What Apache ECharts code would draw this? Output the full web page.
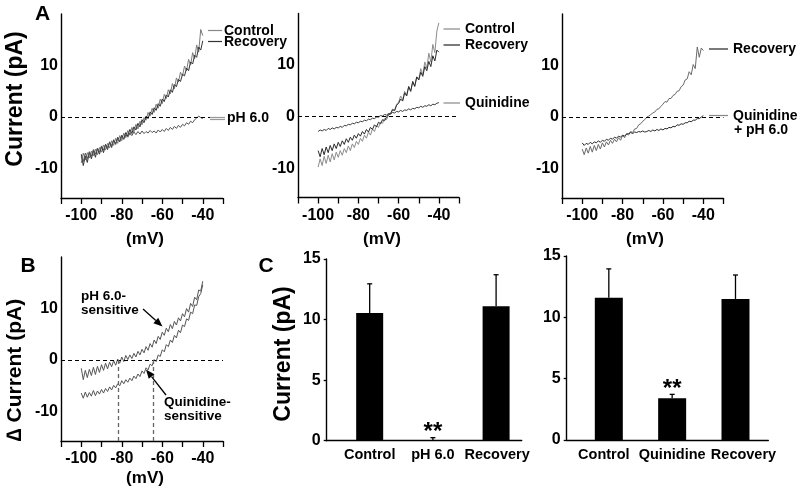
<!DOCTYPE html>
<html><head><meta charset="utf-8">
<script src="https://cdn.jsdelivr.net/npm/echarts@6/dist/echarts.min.js"></script>
<style>html,body{margin:0;padding:0;background:#fff}#c{width:800px;height:492px}</style>
</head><body><div id="c"></div>
<script>
// ---- Data ----
const rampStart = -100;          // mV, first ramp sample
const xTickLabels = [-100, -80, -60, -40];
const yTickLabels = [-10, 0, 10];

// Panel A1
const a1Control  = [-8.9,-7.0,-8.3,-6.9,-7.9,-6.6,-7.5,-6.2,-7.3,-5.9,-6.8,-5.4,-6.4,-5.1,-6.0,-4.6,-5.5,-4.1,-5.1,-3.6,-4.6,-3.1,-4.0,-2.6,-3.5,-2.0,-2.9,-1.4,-2.3,-0.8,-1.5,-0.1,-0.6,0.9,0.2,1.7,0.9,2.5,1.7,3.5,2.6,4.4,3.6,5.3,4.5,6.5,5.5,7.6,6.8,8.7,8.0,9.9,9.0,11.2,10.1,12.5,11.3,14.0,12.6,17.0,15.8];
const a1Recovery = [-7.2,-9.4,-7.6,-8.8,-6.8,-8.1,-6.5,-7.8,-6.1,-7.2,-5.7,-6.9,-5.3,-6.3,-4.8,-5.9,-4.4,-5.3,-3.9,-4.8,-3.5,-4.3,-3.0,-3.7,-2.4,-3.2,-1.9,-2.5,-1.2,-1.9,-0.5,-1.1,0.2,-0.3,1.0,0.5,1.8,1.3,2.6,2.1,3.5,3.0,4.3,3.9,5.3,4.8,6.3,5.9,7.3,6.9,8.3,8.0,9.5,9.0,10.7,10.3,12.0,11.6,13.6,13.0,14.8];
const a1pH6      = [-7.6,-8.6,-7.0,-8.1,-6.7,-7.6,-6.3,-7.2,-6.0,-6.8,-5.6,-6.4,-5.3,-5.9,-4.9,-5.5,-4.6,-5.1,-4.2,-4.7,-3.8,-4.3,-3.4,-3.9,-3.1,-3.6,-2.9,-3.4,-2.8,-3.3,-2.7,-3.2,-2.8,-3.1,-2.6,-3.0,-2.7,-3.1,-2.5,-2.9,-2.4,-2.8,-2.2,-2.6,-2.0,-2.4,-1.8,-2.2,-1.6,-2.0,-1.4,-1.7,-1.1,-1.4,-0.8,-1.1,-0.5,-0.2,0.2,-0.1,-0.3];
// Panel A2
const a2Control   = [-9.8,-8.2,-9.5,-7.7,-9.1,-7.5,-8.8,-7.2,-8.4,-6.9,-7.9,-6.6,-7.5,-6.2,-7.0,-5.7,-6.6,-5.3,-6.0,-4.8,-5.4,-4.2,-4.8,-3.6,-4.2,-3.0,-3.6,-2.4,-2.9,-1.8,-2.1,-1.1,-1.3,-0.4,-0.6,0.3,0.5,1.5,1.1,2.4,2.8,4.0,3.2,4.9,4.1,5.9,4.9,6.8,5.8,7.7,7.2,9.3,8.1,10.6,9.4,12.3,10.6,14.0,12.4,16.6,18.2];
const a2Recovery  = [-6.6,-7.8,-6.2,-7.4,-5.9,-7.0,-5.6,-6.6,-5.3,-6.2,-5.0,-5.8,-4.7,-5.4,-4.3,-5.0,-4.0,-4.6,-3.6,-4.2,-3.3,-3.8,-2.9,-3.4,-2.5,-3.0,-2.1,-2.5,-1.6,-2.0,-1.1,-1.4,-0.6,-0.8,-0.1,0.4,0.6,1.3,1.2,2.2,2.6,3.4,3.0,4.6,4.0,5.8,4.9,6.8,5.9,7.7,7.1,8.6,7.8,9.7,8.9,10.7,9.7,11.8,10.8,12.9,12.5];
const a2Quinidine = [-2.9,-2.6,-2.8,-2.5,-2.7,-2.3,-2.5,-2.2,-2.4,-2.1,-2.2,-1.9,-2.1,-1.7,-1.8,-1.5,-1.6,-1.3,-1.4,-1.1,-1.2,-0.9,-1.0,-0.7,-0.8,-0.5,-0.6,-0.3,-0.4,-0.1,-0.1,0.2,0.1,0.4,0.3,0.6,0.5,0.8,0.7,1.0,0.9,1.2,1.0,1.3,1.2,1.5,1.3,1.6,1.5,1.8,1.7,2.0,1.8,2.1,2.0,2.3,2.1,2.4,2.3,2.6,2.7];
// Panel A3
const a3Recovery  = [-6.2,-7.3,-6.0,-7.0,-5.7,-6.8,-5.5,-6.5,-5.3,-6.2,-5.0,-5.8,-4.8,-5.4,-4.5,-5.1,-4.3,-4.8,-4.0,-4.5,-3.6,-4.0,-3.2,-3.5,-2.8,-3.0,-2.3,-2.2,-1.5,-1.3,-0.8,-0.5,0.0,0.2,0.5,0.8,1.0,1.5,1.6,2.1,2.5,3.0,2.9,3.6,3.6,4.2,4.4,5.0,5.1,5.9,6.2,7.2,7.4,8.8,8.2,10.2,9.4,13.6,11.6,13.4,12.9];
const a3QuinPH    = [-5.0,-5.5,-5.1,-5.3,-4.9,-5.2,-4.8,-5.0,-4.6,-4.9,-4.5,-4.7,-4.3,-4.5,-4.1,-4.3,-3.9,-4.1,-3.7,-3.9,-3.5,-3.7,-3.3,-3.2,-3.0,-3.2,-2.9,-3.0,-2.8,-2.9,-2.7,-2.9,-2.8,-2.6,-2.8,-2.5,-2.7,-2.4,-2.6,-2.3,-2.5,-2.2,-2.3,-2.0,-2.1,-1.8,-1.9,-1.5,-1.6,-1.3,-1.4,-1.1,-1.1,-0.8,-0.9,-0.6,-0.6,-0.3,-0.3,0.0,0.3];
// Panel B (difference currents)
const bPHSensitive  = [-1.6,-3.8,-2.0,-3.4,-1.8,-3.0,-1.4,-2.8,-1.2,-2.4,-0.9,-2.0,-0.6,-1.7,-0.4,-1.3,-0.1,-1.0,0.2,-0.6,0.6,-0.3,0.9,0.1,1.0,0.3,1.3,0.6,1.7,1.0,2.1,1.4,2.6,1.9,3.2,2.5,3.9,3.2,4.6,4.0,5.4,4.8,6.2,5.5,6.9,6.1,7.5,6.8,8.2,7.6,9.0,8.4,10.0,9.3,11.0,10.4,12.2,11.7,13.6,13.4,15.3];
const bQuinSensitive = [-6.4,-7.4,-6.2,-7.2,-6.3,-7.0,-5.9,-6.9,-6.0,-6.6,-5.7,-6.4,-5.5,-6.1,-5.2,-5.8,-4.9,-5.4,-4.6,-5.0,-4.0,-4.6,-3.8,-4.3,-3.5,-4.0,-3.1,-3.6,-2.7,-3.2,-2.1,-2.6,-1.5,-1.9,-0.8,-1.1,0.1,-0.3,1.0,0.7,2.0,1.6,3.0,2.6,3.9,3.4,4.8,4.3,5.8,5.3,6.8,6.5,8.0,7.7,9.3,9.0,10.7,10.6,12.3,12.9,14.6];
const reversalPotentials = [-81.5, -64.5];

// Panel C
const c1Categories = ['Control', 'pH 6.0', 'Recovery'];
const c1Means = [10.55, 0.05, 11.1];
const c1Sem   = [2.4, 0.2, 2.6];
const c1Sig   = ['', '**', ''];
const c2Categories = ['Control', 'Quinidine', 'Recovery'];
const c2Means = [11.6, 3.4, 11.5];
const c2Sem   = [2.35, 0.32, 1.95];
const c2Sig   = ['', '**', ''];

// ---- Chart ----
const FONT = '"Liberation Sans", Arial, sans-serif';
const pairs = arr => arr.map((y, i) => [rampStart + i, y]);
const YMIN = -15.7, YMAX = 20;

const grids = [
  {left: 61,    top: 14,   width: 162,   height: 184},  // A1
  {left: 298,   top: 13.5, width: 161,   height: 184},  // A2
  {left: 562,   top: 14,   width: 161.5, height: 184},  // A3
  {left: 61,    top: 257,  width: 162,   height: 184},  // B
  {left: 326.7, top: 259,  width: 195,   height: 181.7},// C1
  {left: 566.7, top: 256,  width: 201.6, height: 184}   // C2
];

const axLine = {show: true, onZero: false, lineStyle: {color: '#000', width: 1.4}};
function ivX(g) {
  return {gridIndex: g, type: 'value', min: -110, max: -30, interval: 10,
    axisLine: axLine, splitLine: {show: false},
    axisTick: {show: true, length: 6, lineStyle: {color: '#000', width: 1.3}},
    axisLabel: {margin: 10, fontSize: 16, fontWeight: 'bold', fontFamily: FONT, color: '#000',
      formatter: v => xTickLabels.includes(v) ? String(v) : ''}};
}
function ivY(g) {
  return {gridIndex: g, type: 'value', min: YMIN, max: YMAX,
    axisLine: axLine, splitLine: {show: false}, axisTick: {show: false},
    axisLabel: {customValues: yTickLabels, margin: 3, fontSize: 16, fontWeight: 'bold', fontFamily: FONT, color: '#000'}};
}
// shifts: horizontal nudge (px) of each category label from its bar centre
function barX(g, cats, min, max, shifts) {
  const rich = {};
  shifts.forEach((s, i) => {
    rich['s' + i] = {fontSize: 14.5, fontWeight: 'bold', fontFamily: FONT, color: '#000',
      padding: s >= 0 ? [0, 0, 0, 2 * s] : [0, -2 * s, 0, 0]};
  });
  return {gridIndex: g, type: 'value', min: min, max: max,
    axisLine: axLine, splitLine: {show: false}, axisTick: {show: false},
    axisLabel: {customValues: cats.map((c, i) => i), hideOverlap: false, margin: 7,
      fontSize: 14.5, fontWeight: 'bold', fontFamily: FONT, color: '#000', rich: rich,
      formatter: v => { const i = Math.round(v); return '{s' + i + '|' + cats[i] + '}'; }}};
}
function barY(g) {
  return {gridIndex: g, type: 'value', min: 0, max: 15, interval: 5,
    axisLine: axLine, splitLine: {show: false},
    axisTick: {show: true, length: 3, lineStyle: {color: '#000', width: 1.3}},
    axisLabel: {margin: 6, fontSize: 16, fontWeight: 'bold', fontFamily: FONT, color: '#000'}};
}

const zeroLine = {silent: true, symbol: 'none', animation: false, label: {show: false},
  lineStyle: {color: '#000', type: [4, 3], width: 1}, data: [{yAxis: 0}]};

function trace(g, data, color, extra) {
  return Object.assign({type: 'line', xAxisIndex: g, yAxisIndex: g, data: pairs(data),
    showSymbol: false, symbol: 'none', lineStyle: {color: color, width: 1}, z: 3, animation: false}, extra || {});
}

function errorSeries(g, means, sem, sig) {
  return {type: 'custom', xAxisIndex: g, yAxisIndex: g, z: 5, animation: false,
    data: means.map((m, i) => [i, m, sem[i]]),
    renderItem: (params, api) => {
      const x = api.value(0), m = api.value(1), e = api.value(2);
      const p0 = api.coord([x, m]), p1 = api.coord([x, m + e]);
      const ch = [
        {type: 'line', shape: {x1: p0[0], y1: p0[1], x2: p1[0], y2: p1[1]}, style: {stroke: '#000', lineWidth: 1.3}},
        {type: 'line', shape: {x1: p1[0] - 2.5, y1: p1[1], x2: p1[0] + 2.5, y2: p1[1]}, style: {stroke: '#000', lineWidth: 1.3}}
      ];
      const s = sig[params.dataIndex];
      if (s) ch.push({type: 'text', x: p1[0], y: p1[1] - 5,
        style: {text: s, fill: '#000', font: 'bold 24px ' + FONT, align: 'center', verticalAlign: 'middle'}});
      return {type: 'group', children: ch};
    }};
}

function txt(text, x, y, size, align, rot) {
  return {type: 'text', x: x, y: y, rotation: rot || 0, z: 100,
    style: {text: text, fill: '#000', font: 'bold ' + size + 'px ' + FONT, align: align || 'left', verticalAlign: 'middle'}};
}
function seg(x1, y1, x2, y2, color, w) {
  return {type: 'line', z: 100, shape: {x1, y1, x2, y2}, style: {stroke: color, lineWidth: w || 1.2}};
}
function arrow(x1, y1, x2, y2) {
  const a = Math.atan2(y2 - y1, x2 - x1), L = 9, W = 3.6;
  const bx = x2 - L * Math.cos(a), by = y2 - L * Math.sin(a);
  const px = -Math.sin(a) * W, py = Math.cos(a) * W;
  return [seg(x1, y1, bx, by, '#000', 1.3),
    {type: 'polygon', z: 100, shape: {points: [[x2, y2], [bx + px, by + py], [bx - px, by - py]]}, style: {fill: '#000'}}];
}

const graphics = [
  txt('A', 42.5, 14, 21, 'center'),
  txt('B', 28, 266, 21, 'center'),
  txt('C', 266, 266, 21, 'center'),
  txt('Current (pA)', 15.5, 99, 23, 'center', Math.PI / 2),
  txt('\u2206 Current (pA)', 15, 370, 21, 'center', Math.PI / 2),
  txt('Current (pA)', 283.5, 354, 23, 'center', Math.PI / 2),
  txt('(mV)', 145, 239, 17, 'center'),
  txt('(mV)', 382, 239, 17, 'center'),
  txt('(mV)', 645, 239, 17, 'center'),
  txt('(mV)', 145, 478.5, 17, 'center'),
  // A1 labels
  seg(208, 30.5, 222, 30.5, '#888'), txt('Control', 224, 31, 14),
  seg(208, 41.5, 222, 41.5, '#333'), txt('Recovery', 224, 42, 14),
  seg(210, 117.5, 225, 117.5, '#999'), seg(210, 119.5, 225, 119.5, '#999'), txt('pH 6.0', 227, 118.5, 14),
  // A2 labels
  seg(443.5, 29, 460, 29, '#888'), txt('Control', 465, 29, 14),
  seg(443.5, 45, 460, 45, '#222'), txt('Recovery', 465, 45, 14),
  seg(443.5, 103, 460, 103, '#888'), txt('Quinidine', 465, 103, 14),
  // A3 labels
  seg(709, 49, 728, 49, '#222'), txt('Recovery', 733, 49, 14),
  seg(709, 115.5, 728, 115.5, '#888'), txt('Quinidine', 733, 116, 14), txt('+ pH 6.0', 734, 130, 14),
  // B annotations
  txt('pH 6.0-', 81, 296, 13.5), txt('sensitive', 81, 310, 13.5),
  ...arrow(143, 309, 162.5, 326.5),
  txt('Quinidine-', 164, 402, 13.5), txt('sensitive', 164, 416, 13.5),
  ...arrow(166, 395, 146, 369.5)
];

const option = {
  animation: false,
  backgroundColor: '#fff',
  grid: grids.map(g => Object.assign({containLabel: false}, g)),
  xAxis: [ivX(0), ivX(1), ivX(2), ivX(3),
    barX(4, c1Categories, -0.68, 2.405, [0, 0, 1]),
    barX(5, c2Categories, -0.665, 2.518, [-5, 0, 8])],
  yAxis: [ivY(0), ivY(1), ivY(2), ivY(3), barY(4), barY(5)],
  graphic: graphics,
  series: [
    trace(0, a1Control, '#7a7a7a', {markLine: zeroLine}),
    trace(0, a1Recovery, '#333'),
    trace(0, a1pH6, '#555'),
    trace(1, a2Control, '#8c8c8c', {markLine: zeroLine}),
    trace(1, a2Recovery, '#2a2a2a'),
    trace(1, a2Quinidine, '#3a3a3a'),
    trace(2, a3Recovery, '#6a6a6a', {markLine: zeroLine}),
    trace(2, a3QuinPH, '#2a2a2a'),
    trace(3, bPHSensitive, '#555', {markLine: zeroLine}),
    trace(3, bQuinSensitive, '#555', {markLine: {silent: true, symbol: 'none', animation: false, label: {show: false},
      lineStyle: {color: '#666', type: [4, 3], width: 1.3},
      data: reversalPotentials.map(v => [{coord: [v, 0]}, {coord: [v, YMIN]}])}}),
    {type: 'bar', xAxisIndex: 4, yAxisIndex: 4, barWidth: 27, itemStyle: {color: '#000'},
      data: c1Means.map((m, i) => [i, m]), animation: false},
    errorSeries(4, c1Means, c1Sem, c1Sig),
    {type: 'bar', xAxisIndex: 5, yAxisIndex: 5, barWidth: 28, itemStyle: {color: '#000'},
      data: c2Means.map((m, i) => [i, m]), animation: false},
    errorSeries(5, c2Means, c2Sem, c2Sig)
  ]
};
const chart = echarts.init(document.getElementById('c'), null, {renderer: 'canvas'});
chart.setOption(option);
</script></body></html>
